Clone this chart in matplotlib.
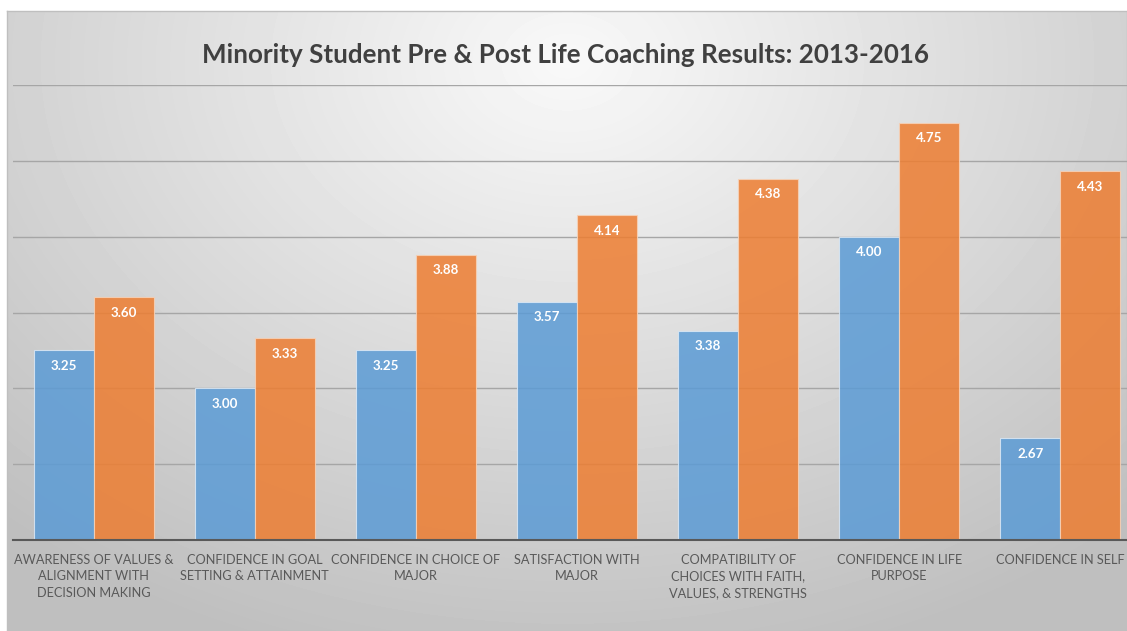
import numpy as np
import matplotlib.pyplot as plt

categories = ['AWARENESS OF VALUES &\nALIGNMENT WITH\nDECISION MAKING',
              'CONFIDENCE IN GOAL\nSETTING & ATTAINMENT',
              'CONFIDENCE IN CHOICE OF\nMAJOR',
              'SATISFACTION WITH\nMAJOR',
              'COMPATIBILITY OF\nCHOICES WITH FAITH,\nVALUES, & STRENGTHS',
              'CONFIDENCE IN LIFE\nPURPOSE',
              'CONFIDENCE IN SELF']
pre = [3.25, 3.00, 3.25, 3.57, 3.38, 4.00, 2.67]
post = [3.60, 3.33, 3.88, 4.14, 4.38, 4.75, 4.43]

W, H = 1127, 631
plt.rcParams['font.family'] = ['Lato', 'DejaVu Sans']
fig = plt.figure(figsize=(W / 100, H / 100), dpi=100)

# gradient background of the chart area
bg = fig.add_axes([7 / W, 0, 1 - 7 / W, 1 - 11 / H])
yy, xx = np.mgrid[0:620, 0:1120]
d = np.sqrt(((xx - 560) / 700.0) ** 2 + ((yy - 50) / 520.0) ** 2)
shade = 0.975 - 0.19 * np.clip(d, 0, 1.2)
bg.imshow(shade, cmap='gray', vmin=0, vmax=1, aspect='auto', interpolation='bilinear')
bg.set_xticks([])
bg.set_yticks([])
for s in bg.spines.values():
    s.set_color('#bfbfbf')
    s.set_linewidth(1)

ax = fig.add_axes([13 / W, 1 - 540 / H, 1128 / W, 455 / H])
ax.patch.set_alpha(0)
x = np.arange(len(categories))
bw = 0.372
b1 = ax.bar(x - bw / 2, pre, bw, color='#5B9BD5', alpha=0.85,
            edgecolor='#dbe8f5', linewidth=0.8, zorder=3)
b2 = ax.bar(x + bw / 2, post, bw, color='#ED7D31', alpha=0.85,
            edgecolor='#f6d2b8', linewidth=0.8, zorder=3)

for bars, vals in [(b1, pre), (b2, post)]:
    for r, v in zip(bars, vals):
        ax.annotate(f'{v:.2f}', (r.get_x() + r.get_width() / 2, v),
                    xytext=(0, -11), textcoords='offset points',
                    ha='center', va='center', color='white',
                    fontsize=9.6, fontweight='bold', zorder=4)

ax.set_ylim(2.0, 5.0)
ax.set_xlim(-0.5, len(categories) - 0.5)
ax.set_yticks(np.arange(2.5, 5.01, 0.5))
ax.yaxis.grid(True, color='#a6a6a6', linewidth=1, zorder=1)
ax.tick_params(axis='y', left=False, labelleft=False)
ax.set_xticks(x, categories)
ax.tick_params(axis='x', length=0, pad=10, labelsize=9.2, labelcolor='#595959')
for t in ax.get_xticklabels():
    t.set_linespacing(1.45)
for s in ['top', 'right', 'left']:
    ax.spines[s].set_visible(False)
ax.spines['bottom'].set_color('#595959')
ax.spines['bottom'].set_linewidth(1.5)
ax.spines['bottom'].set_zorder(5)

fig.text(566 / W, 1 - 55 / H, 'Minority Student Pre & Post Life Coaching Results: 2013-2016',
         ha='center', va='center', fontsize=18.7, fontweight='bold', color='#404040')

fig.savefig('out.png', dpi=100)
